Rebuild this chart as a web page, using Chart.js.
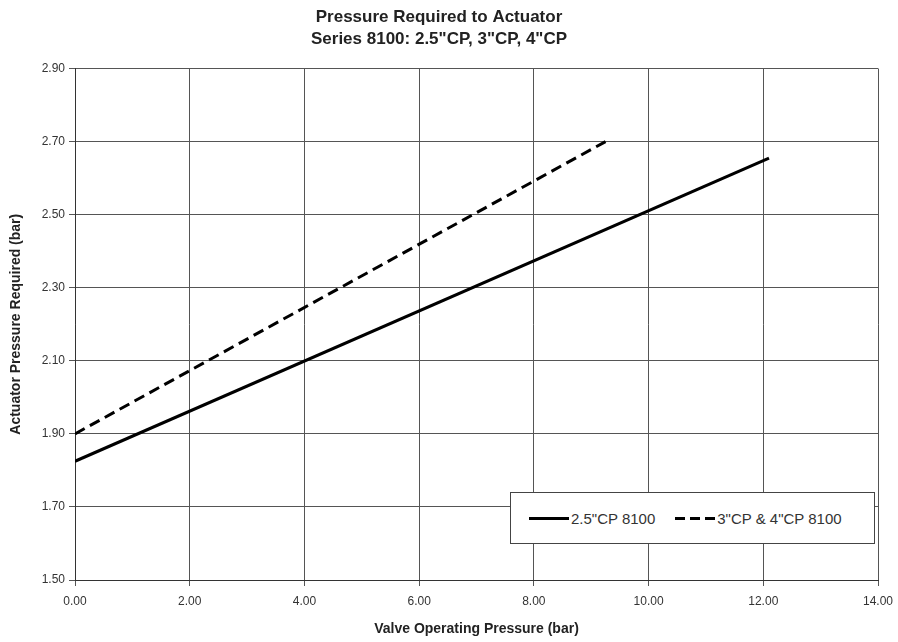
<!DOCTYPE html>
<html>
<head>
<meta charset="utf-8">
<script src="https://cdn.jsdelivr.net/npm/chart.js@4/dist/chart.umd.min.js"></script>
<style>
  body { margin: 0; background: #fff; }
  #wrap { position: relative; width: 898px; height: 642px; }
  #legend {
    position: absolute; left: 510px; top: 492px; width: 365px; height: 52px;
    background: #fff; border: 1px solid #444; box-sizing: border-box;
    font-family: "Liberation Sans", Arial, sans-serif; font-size: 15px; color: #333;
    display: flex; align-items: center; padding-left: 18px; white-space: nowrap;
  }
  .item { display: flex; align-items: center; margin-right: 20px; }
  .swatch { width: 40px; height: 3px; background: #000; margin-right: 2px; }
  .swatch.dash { background: repeating-linear-gradient(90deg, #000 0 10px, transparent 10px 15px); }
</style>
</head>
<body>
<div id="wrap">
  <canvas id="chart1" width="898" height="642"></canvas>
  <div id="legend">
    <div class="item"><span class="swatch"></span>2.5"CP 8100</div>
    <div class="item"><span class="swatch dash"></span>3"CP &amp; 4"CP 8100</div>
  </div>
</div>
<script>
// data
const seriesNames = ['2.5"CP 8100', '3"CP & 4"CP 8100'];
const solidX = [0, 12.1];
const solidY = [1.825, 2.655];
const dashX = [0, 9.25];
const dashY = [1.9, 2.7];

const xTicks = [0, 2, 4, 6, 8, 10, 12, 14];
const yTicks = [1.5, 1.7, 1.9, 2.1, 2.3, 2.5, 2.7, 2.9];

function pts(xs, ys) {
  return xs.map((x, i) => ({ x: x, y: ys[i] }));
}

const font = "'Liberation Sans', Arial, sans-serif";

const ctx = document.getElementById("chart1");
new Chart(ctx, {
  type: "scatter",
  data: {
    datasets: [
      {
        label: seriesNames[0],
        data: pts(solidX, solidY),
        showLine: true,
        borderColor: "#000",
        borderWidth: 3,
        pointRadius: 0,
      },
      {
        label: seriesNames[1],
        data: pts(dashX, dashY),
        showLine: true,
        borderColor: "#000",
        borderWidth: 3,
        borderDash: [11, 6],
        pointRadius: 0,
      },
    ],
  },
  options: {
    responsive: false,
    animation: false,
    layout: { padding: { left: 0, right: 20, top: 0, bottom: 0 } },
    plugins: {
      legend: { display: false },
      tooltip: { enabled: false },
      title: {
        display: true,
        text: ["Pressure Required to Actuator", 'Series 8100: 2.5"CP, 3"CP, 4"CP'],
        color: "#222",
        font: { family: font, size: 17, weight: "bold", lineHeight: 1.25 },
        padding: { top: 7, bottom: 19 },
      },
    },
    scales: {
      x: {
        type: "linear",
        min: 0,
        max: 14,
        afterBuildTicks: (axis) => { axis.ticks = xTicks.map((v) => ({ value: v })); },
        afterFit: (axis) => {
          axis.height = 62;
          axis.paddingLeft = 0;
          axis.paddingRight = 0;
        },
        ticks: {
          color: "#333",
          font: { family: font, size: 12 },
          padding: 8,
          callback: (v) => Number(v).toFixed(2),
        },
        grid: { color: "#555", tickLength: 6, tickColor: "#555" },
        border: { color: "#333", width: 1 },
        title: {
          display: true,
          text: "Valve Operating Pressure (bar)",
          color: "#222",
          font: { family: font, size: 14, weight: "bold" },
          padding: { top: 6, bottom: 4 },
        },
      },
      y: {
        type: "linear",
        min: 1.5,
        max: 2.9,
        afterBuildTicks: (axis) => { axis.ticks = yTicks.map((v) => ({ value: v })); },
        afterFit: (axis) => { axis.width = 75; },
        ticks: {
          color: "#333",
          font: { family: font, size: 12 },
          padding: 4,
          callback: (v) => Number(v).toFixed(2),
        },
        grid: { color: "#555", tickLength: 6, tickColor: "#555" },
        border: { color: "#333", width: 1 },
        title: {
          display: true,
          text: "Actuator Pressure Required (bar)",
          color: "#222",
          font: { family: font, size: 14, weight: "bold" },
          padding: { top: 8, bottom: 2 },
        },
      },
    },
  },
});
</script>
</body>
</html>
